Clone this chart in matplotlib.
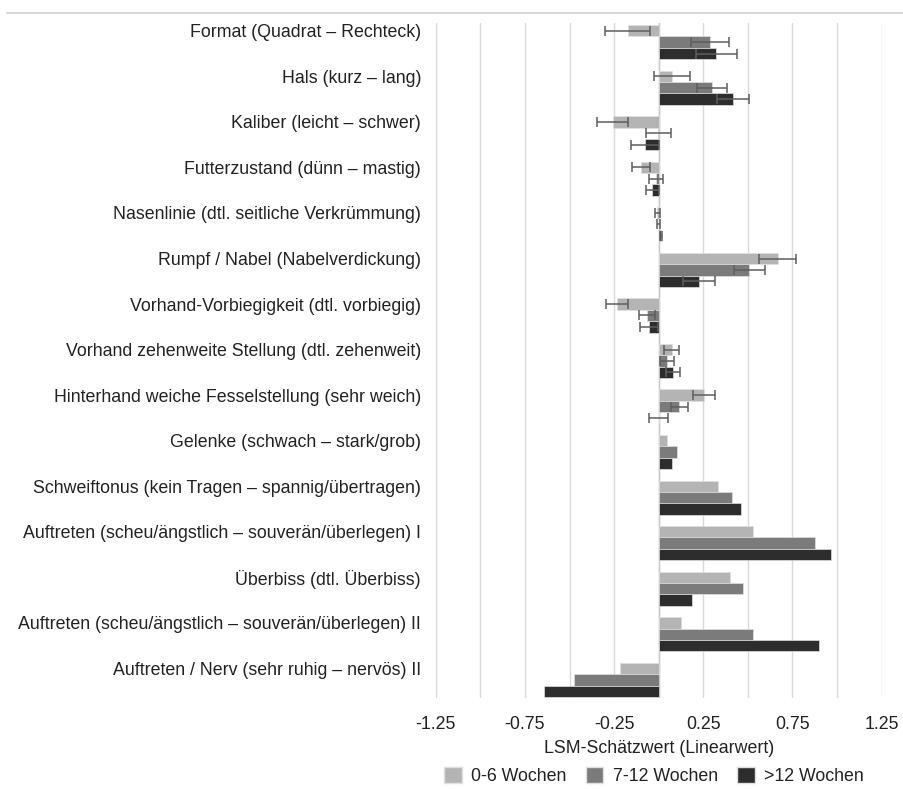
import matplotlib
matplotlib.use("Agg")
import matplotlib.pyplot as plt
from matplotlib.lines import Line2D
from matplotlib.patches import Patch
import numpy as np

plt.rcParams['font.family'] = ['Liberation Sans', 'DejaVu Sans']

categories = [
    "Format (Quadrat – Rechteck)",
    "Hals (kurz – lang)",
    "Kaliber (leicht – schwer)",
    "Futterzustand (dünn – mastig)",
    "Nasenlinie (dtl. seitliche Verkrümmung)",
    "Rumpf / Nabel (Nabelverdickung)",
    "Vorhand-Vorbiegigkeit (dtl. vorbiegig)",
    "Vorhand zehenweite Stellung (dtl. zehenweit)",
    "Hinterhand weiche Fesselstellung (sehr weich)",
    "Gelenke (schwach – stark/grob)",
    "Schweiftonus (kein Tragen – spannig/übertragen)",
    "Auftreten (scheu/ängstlich – souverän/überlegen) I",
    "Überbiss (dtl. Überbiss)",
    "Auftreten (scheu/ängstlich – souverän/überlegen) II",
    "Auftreten / Nerv (sehr ruhig – nervös) II",
]

series_names = ["0-6 Wochen", "7-12 Wochen", ">12 Wochen"]

v_0_6 = [-0.174, 0.076, -0.258, -0.099, -0.007, 0.667, -0.234, 0.073, 0.254, 0.047, 0.331, 0.530, 0.400, 0.127, -0.217]
v_7_12 = [0.288, 0.300, -0.002, -0.015, 0.000, 0.508, -0.067, 0.048, 0.116, 0.104, 0.409, 0.876, 0.473, 0.530, -0.475]
v_12p = [0.323, 0.418, -0.077, -0.036, 0.012, 0.226, -0.054, 0.082, 0.000, 0.076, 0.463, 0.964, 0.185, 0.897, -0.643]

e_0_6 = [0.127, 0.102, 0.086, 0.053, 0.015, 0.105, 0.060, 0.043, 0.063, None, None, None, None, None, None]
e_7_12 = [0.108, 0.085, 0.070, 0.040, 0.010, 0.086, 0.045, 0.038, 0.048, None, None, None, None, None, None]
e_12p = [0.114, 0.090, 0.078, 0.037, 0.007, 0.090, 0.049, 0.040, 0.053, None, None, None, None, None, None]

values = [v_0_6, v_7_12, v_12p]
errors = [e_0_6, e_7_12, e_12p]
colors = ["#b4b4b4", "#7b7b7b", "#2d2d2d"]

FS = 12.8

fig = plt.figure(figsize=(9.04, 7.89), dpi=100)
ax = fig.add_axes([0.482, 0.1153, 0.9753 - 0.482, 0.9708 - 0.1153])

n = len(categories)
y = np.arange(n)
h = 0.25
offsets = [-h, 0, h]

for k in range(3):
    ax.barh(y + offsets[k], values[k], height=h, color=colors[k],
            edgecolor="#e0e0e0", linewidth=0.5, zorder=3)
    ys, xs, es = [], [], []
    for i in range(n):
        if errors[k][i] is not None:
            ys.append(y[i] + offsets[k])
            xs.append(values[k][i])
            es.append(errors[k][i])
    ax.errorbar(xs, ys, xerr=es, fmt="none", ecolor="#5e5e5e",
                elinewidth=1.1, capsize=3.5, capthick=1.1, zorder=4)

ax.set_xlim(-1.25, 1.25)
ax.set_ylim(n - 1 + 0.4, -0.42)
ax.set_xticks(np.arange(-1.25, 1.26, 0.5))
ax.set_xticklabels(["-1.25", "-0.75", "-0.25", "0.25", "0.75", "1.25"])
ax.set_xticks(np.arange(-1.0, 1.01, 0.5), minor=True)
ax.grid(axis="x", which="both", color="#d9d9d9", linewidth=1.0, zorder=0)
ax.set_yticks(y - h)
ax.set_yticklabels(categories)
ax.tick_params(axis="both", which="both", length=0, labelsize=FS, colors="#222222")
ax.tick_params(axis="y", pad=10.6)
ax.tick_params(axis="x", pad=13)
for s in ax.spines.values():
    s.set_visible(False)
ax.axvline(0, color="#c8c8c8", linewidth=1.0, zorder=2)

ax.set_xlabel("LSM-Schätzwert (Linearwert)", fontsize=FS, color="#222222", labelpad=5)

handles = [Patch(facecolor=c, edgecolor="#e0e0e0") for c in colors]
fig.legend(handles, series_names, loc="center", bbox_to_anchor=(0.7235, 0.0165),
           ncol=3, frameon=False, fontsize=FS, handlelength=1.0, handleheight=1.0,
           columnspacing=1.05, handletextpad=0.55, labelcolor="#222222")

fig.add_artist(Line2D([0.008, 1.0], [1 - 13.3 / 789, 1 - 13.3 / 789],
                      transform=fig.transFigure, color="#d0d0d0", linewidth=1.2))

fig.savefig("out.png", dpi=100, facecolor="white")
